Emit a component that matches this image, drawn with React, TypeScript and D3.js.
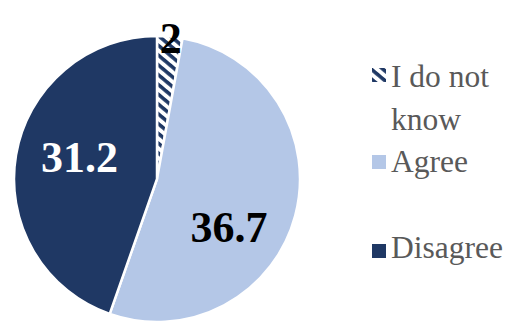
import React from "react";
import * as d3 from "d3";

const categories = ["I do not know", "Agree", "Disagree"];
const values = [2, 36.7, 31.2];
const valueLabels = ["2", "36.7", "31.2"];

const W = 510;
const H = 324;
const cx = 157;
const cy = 179;
const R = 143;

const colors = ["url(#hatch)", "#B4C7E7", "#1F3864"];
const labelColors = ["#000000", "#000000", "#FFFFFF"];
// label placement: [radius factor, dx, dy]
const labelPlace: [number, number, number][] = [
  [1.0, 1, 6],
  [0.52, 0, 34],
  [0.55, 0, -4],
];

export default function App() {
  const data = categories.map((c, i) => ({ c, v: values[i], i }));
  const pie = d3.pie<any>().sort(null).value((d) => d.v);
  const arcs = pie(data);
  const arc = d3.arc<any>().innerRadius(0).outerRadius(R);

  return (
    <svg
      width={W}
      height={H}
      style={{ position: "absolute", left: 0, top: 0, background: "#fff" }}
    >
      <defs>
        <pattern
          id="hatch"
          patternUnits="userSpaceOnUse"
          width="7.5"
          height="7.5"
          patternTransform="rotate(40)"
        >
          <rect width="7.5" height="7.5" fill="#fff" />
          <rect width="7.5" height="3.6" fill="#1F3864" />
        </pattern>
      </defs>
      <g transform={`translate(${cx},${cy})`}>
        {arcs.map((a, i) => (
          <path
            key={i}
            d={arc(a) as string}
            fill={colors[i]}
            stroke="#fff"
            strokeWidth={2.5}
          />
        ))}
        {arcs.map((a, i) => {
          const [f, dx, dy] = labelPlace[i];
          const la = d3.arc<any>().innerRadius(R * f).outerRadius(R * f);
          const [x, y] = la.centroid(a);
          return (
            <text
              key={i}
              x={x + dx}
              y={y + dy}
              textAnchor="middle"
              dominantBaseline="middle"
              fontFamily="'Liberation Serif', 'Times New Roman', serif"
              fontWeight="bold"
              fontSize={44}
              fill={labelColors[i]}
            >
              {valueLabels[i]}
            </text>
          );
        })}
      </g>
      <g fontFamily="'Liberation Serif', 'Times New Roman', serif" fontSize={31.5} fill="#595959">
        <rect x={372} y={68} width={14} height={14} fill="url(#hatch)" />
        <text x={391} y={87}>I do not</text>
        <text x={391} y={130}>know</text>
        <rect x={372} y={155} width={14} height={14} fill={colors[1]} />
        <text x={391} y={172}>{categories[1]}</text>
        <rect x={372} y={244} width={14} height={14} fill={colors[2]} />
        <text x={391} y={258}>{categories[2]}</text>
      </g>
    </svg>
  );
}
